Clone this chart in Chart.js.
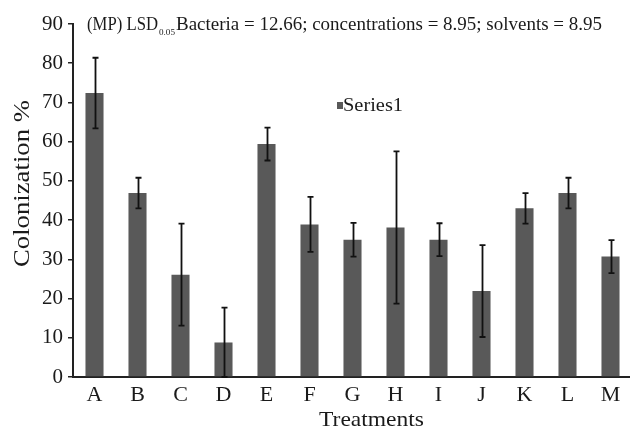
<!DOCTYPE html>
<html>
<head>
<meta charset="utf-8">
<script src="https://cdn.jsdelivr.net/npm/chart.js@4.4.1/dist/chart.umd.min.js"></script>
<style>
  html, body { margin: 0; padding: 0; background: #fff; overflow: hidden; }
  canvas { display: block; }
</style>
</head>
<body>
<canvas id="chart" width="632" height="427"></canvas>
<script>
const treatments = ['A', 'B', 'C', 'D', 'E', 'F', 'G', 'H', 'I', 'J', 'K', 'L', 'M'];
const colonization = [72.4, 46.9, 26.1, 8.8, 59.4, 38.9, 35.0, 38.1, 35.0, 21.9, 43.0, 46.9, 30.7];
const errors = [9.0, 3.9, 13.0, 8.9, 4.2, 7.0, 4.3, 19.4, 4.2, 11.7, 3.9, 3.9, 4.2];
const yTicks = [0, 10, 20, 30, 40, 50, 60, 70, 80, 90];

const serif = '"Liberation Serif", "Times New Roman", serif';
const barColor = '#595959';
const inkColor = '#1a1a1a';

// error bars, drawn over the bars
const errorBarPlugin = {
    id: 'errorBars',
    afterDatasetsDraw(chart) {
        const ctx = chart.ctx;
        const meta = chart.getDatasetMeta(0);
        const yScale = chart.scales.y;
        ctx.save();
        ctx.strokeStyle = '#111';
        ctx.lineWidth = 1.8;
        meta.data.forEach((bar, i) => {
            const v = colonization[i];
            const e = errors[i];
            const top = yScale.getPixelForValue(v + e);
            const bottom = yScale.getPixelForValue(Math.max(0, v - e));
            const x = Math.round(bar.x) + 0.5;
            ctx.beginPath();
            ctx.moveTo(x, top);
            ctx.lineTo(x, bottom);
            ctx.moveTo(x - 3, top);
            ctx.lineTo(x + 3, top);
            ctx.moveTo(x - 3, bottom);
            ctx.lineTo(x + 3, bottom);
            ctx.stroke();
        });
        ctx.restore();
    }
};

// stretch a text horizontally to a given width
function fillWide(ctx, text, x, y, width) {
    const w = ctx.measureText(text).width;
    ctx.save();
    ctx.translate(x, y);
    ctx.scale(width / w, 1);
    ctx.fillText(text, 0, 0);
    ctx.restore();
}

// title line, legend and axis titles
const textPlugin = {
    id: 'texts',
    afterDraw(chart) {
        const ctx = chart.ctx;
        ctx.save();
        ctx.fillStyle = inkColor;
        ctx.textBaseline = 'alphabetic';
        ctx.textAlign = 'left';

        ctx.font = '19px ' + serif;
        fillWide(ctx, '(MP) LSD', 87, 30, 71);
        ctx.font = '9px ' + serif;
        fillWide(ctx, '0.05', 159, 35, 16);
        ctx.font = '19px ' + serif;
        fillWide(ctx, 'Bacteria = 12.66; concentrations = 8.95; solvents = 8.95', 176, 30, 426);

        // legend
        ctx.fillStyle = barColor;
        ctx.fillRect(337, 102, 6, 7);
        ctx.fillStyle = inkColor;
        ctx.font = '19px ' + serif;
        fillWide(ctx, 'Series1', 343, 111, 60);

        // axis titles
        ctx.font = '22px ' + serif;
        ctx.textBaseline = 'alphabetic';
        fillWide(ctx, 'Treatments', 319, 426, 105);
        ctx.translate(29, 267);
        ctx.rotate(-Math.PI / 2);
        ctx.font = '23px ' + serif;
        fillWide(ctx, 'Colonization %', 0, 0, 167);
        ctx.restore();
    }
};

new Chart(document.getElementById('chart').getContext('2d'), {
    type: 'bar',
    data: {
        labels: treatments,
        datasets: [{
            label: 'Series1',
            data: colonization,
            backgroundColor: barColor,
            borderWidth: 0,
            barPercentage: 0.42,
            categoryPercentage: 1
        }]
    },
    options: {
        responsive: false,
        animation: false,
        layout: { padding: { top: 24, right: 0, bottom: 0, left: 0 } },
        plugins: {
            legend: { display: false },
            tooltip: { enabled: false }
        },
        scales: {
            x: {
                grid: { display: false, drawTicks: false },
                border: { display: true, color: '#222', width: 2 },
                ticks: {
                    color: inkColor,
                    font: { family: serif, size: 22, lineHeight: 1 },
                    padding: 7
                },
                afterFit(scale) { scale.height = 50; }
            },
            y: {
                min: 0,
                max: 90,
                afterBuildTicks(scale) { scale.ticks = yTicks.map(v => ({ value: v })); },
                grid: { drawOnChartArea: false, drawTicks: true, tickLength: 5, color: '#222', lineWidth: 1.5 },
                border: { display: true, color: '#222', width: 2 },
                ticks: {
                    color: inkColor,
                    font: { family: serif, size: 21 },
                    padding: 5
                },
                afterFit(scale) { scale.width = 73; }
            }
        }
    },
    plugins: [errorBarPlugin, textPlugin]
});
</script>
</body>
</html>
